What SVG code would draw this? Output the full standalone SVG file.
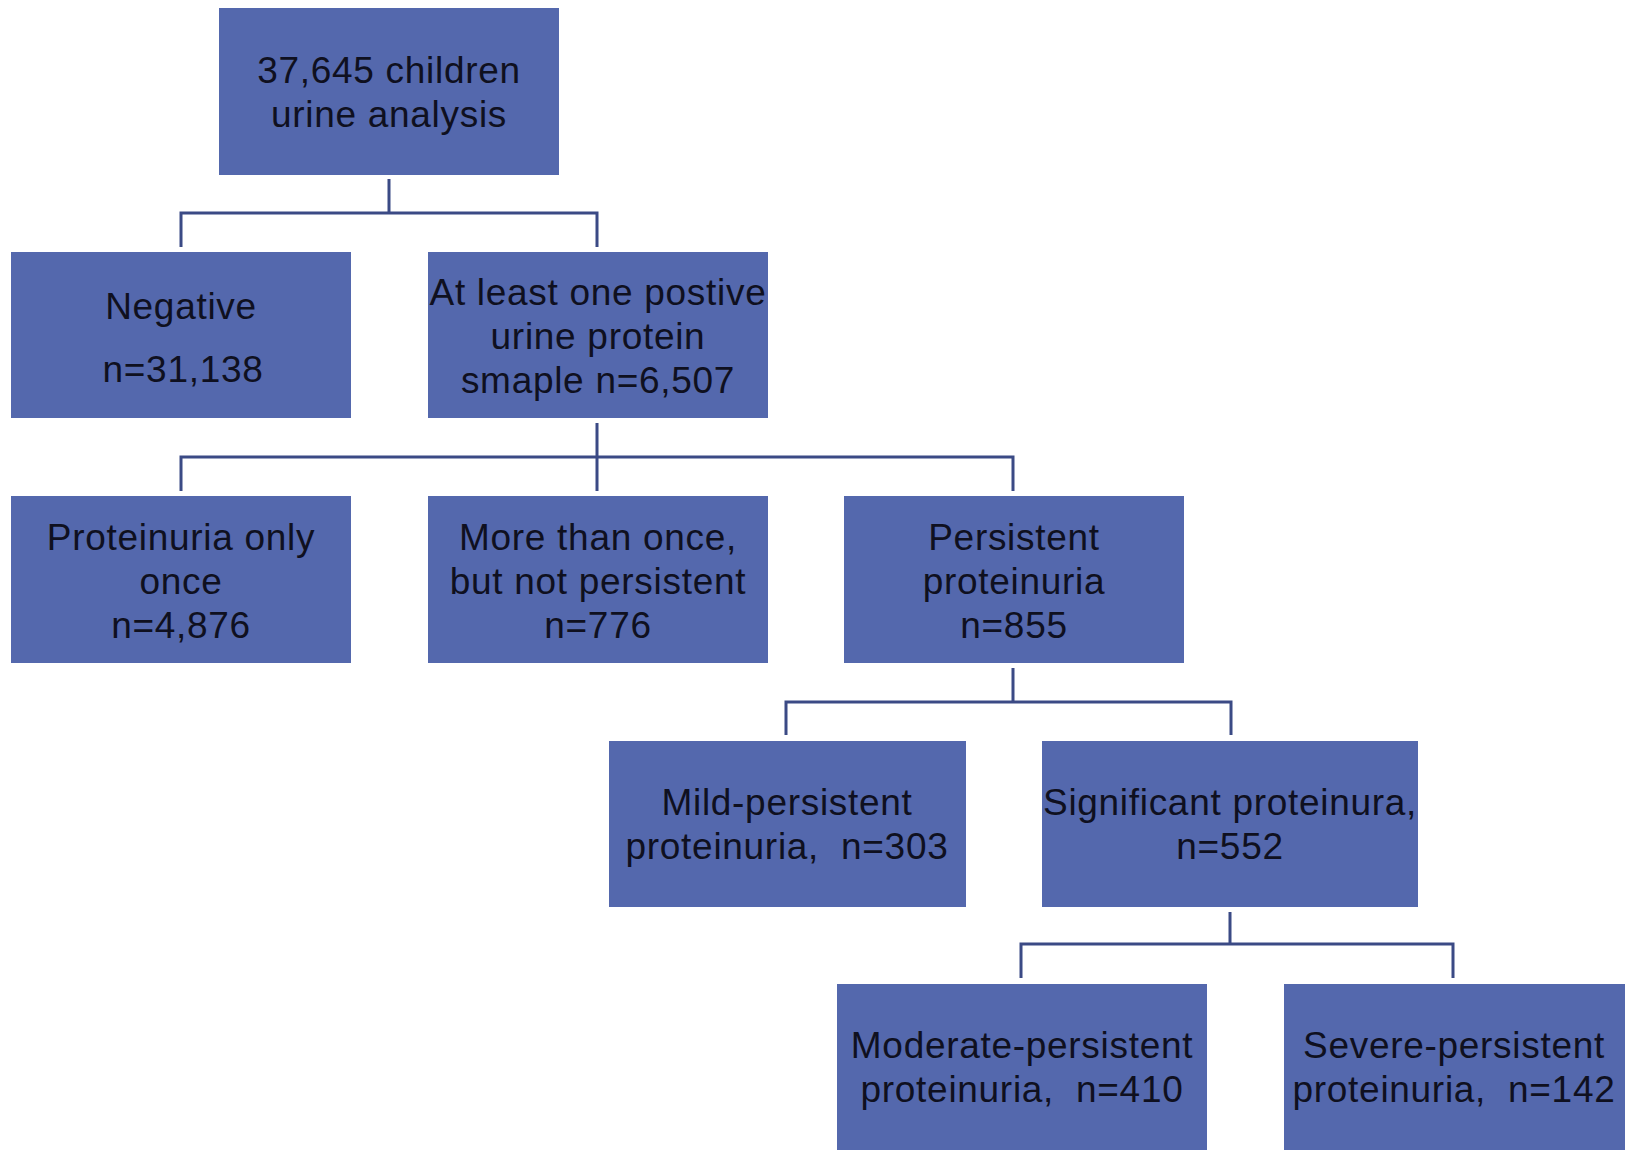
<svg xmlns="http://www.w3.org/2000/svg" width="1631" height="1152" viewBox="0 0 1631 1152">
<style>
.box{fill:#5468ad;}
.t{font-family:"Liberation Sans",Arial,sans-serif;font-size:37px;letter-spacing:0.7px;fill:#0f1020;text-anchor:middle;white-space:pre;}
.c{fill:none;stroke:#3b4a85;stroke-width:3;}
</style>
<rect width="1631" height="1152" fill="#ffffff"/>
<g id="connectors">
<path class="c" d="M389,179 V213 M181,247 V213 H597 V247"/>
<path class="c" d="M597,423 V491 M181,491 V457 H1013 V491"/>
<path class="c" d="M1013,668 V702 M786,735 V702 H1231 V735"/>
<path class="c" d="M1230,912 V944 M1021,978 V944 H1453 V978"/>
</g>
<g id="n1"><rect class="box" x="219" y="8" width="340" height="167"/>
<text class="t" x="389" y="83">37,645 children</text><text class="t" x="389" y="127">urine analysis</text></g>
<g id="n2"><rect class="box" x="11" y="252" width="340" height="166"/>
<text class="t" x="181" y="319">Negative</text><text class="t" x="183" y="382">n=31,138</text></g>
<g id="n3"><rect class="box" x="428" y="252" width="340" height="166"/>
<text class="t" x="598" y="305">At least one postive</text><text class="t" x="598" y="349">urine protein</text><text class="t" x="598" y="393">smaple n=6,507</text></g>
<g id="n4"><rect class="box" x="11" y="496" width="340" height="167"/>
<text class="t" x="181" y="550">Proteinuria only</text><text class="t" x="181" y="594">once</text><text class="t" x="181" y="638">n=4,876</text></g>
<g id="n5"><rect class="box" x="428" y="496" width="340" height="167"/>
<text class="t" x="598" y="550">More than once,</text><text class="t" x="598" y="594">but not persistent</text><text class="t" x="598" y="638">n=776</text></g>
<g id="n6"><rect class="box" x="844" y="496" width="340" height="167"/>
<text class="t" x="1014" y="550">Persistent</text><text class="t" x="1014" y="594">proteinuria</text><text class="t" x="1014" y="638">n=855</text></g>
<g id="n7"><rect class="box" x="609" y="741" width="357" height="166"/>
<text class="t" x="787" y="815">Mild-persistent</text><text class="t" x="787" y="859">proteinuria,  n=303</text></g>
<g id="n8"><rect class="box" x="1042" y="741" width="376" height="166"/>
<text class="t" x="1230" y="815">Significant proteinura,</text><text class="t" x="1230" y="859">n=552</text></g>
<g id="n9"><rect class="box" x="837" y="984" width="370" height="166"/>
<text class="t" x="1022" y="1058">Moderate-persistent</text><text class="t" x="1022" y="1102">proteinuria,  n=410</text></g>
<g id="n10"><rect class="box" x="1284" y="984" width="341" height="166"/>
<text class="t" x="1454" y="1058">Severe-persistent</text><text class="t" x="1454" y="1102">proteinuria,  n=142</text></g>
</svg>
